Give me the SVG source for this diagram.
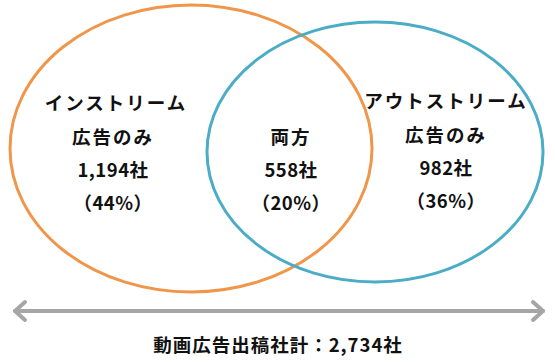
<svg xmlns="http://www.w3.org/2000/svg" width="555" height="362" viewBox="0 0 555 362">
<style>
.t{font-family:"Noto Sans CJK JP","Noto Sans",sans-serif;font-weight:bold;font-size:18.5px;fill:#111;text-anchor:middle;letter-spacing:2px}
.n{letter-spacing:0.5px}
.ring{fill:none;stroke-width:3}
</style>
<rect width="555" height="362" fill="#fff"/>
<g id="in-stream">
<ellipse class="ring" cx="191" cy="148.5" rx="181" ry="143.5" stroke="#F0964A"/>
</g>
<g id="out-stream">
<ellipse class="ring" cx="375" cy="152" rx="168" ry="130" stroke="#4BACC6"/>
</g>
<g id="labels-left">
<text class="t" x="116" y="110">インストリーム</text>
<text class="t" x="113" y="144">広告のみ</text>
<text class="t n" x="113" y="177">1,194社</text>
<text class="t n" x="113" y="210">（44%）</text>
</g>
<g id="labels-mid">
<text class="t" x="291" y="144">両方</text>
<text class="t n" x="291" y="177">558社</text>
<text class="t n" x="291" y="210">（20%）</text>
</g>
<g id="labels-right">
<text class="t" x="446" y="108">アウトストリーム</text>
<text class="t" x="446" y="142">広告のみ</text>
<text class="t n" x="446" y="175">982社</text>
<text class="t n" x="446" y="208">（36%）</text>
</g>
<g id="connectors" fill="none" stroke="#A6A6A6" stroke-width="4" stroke-linecap="round" stroke-linejoin="round">
<line x1="15" y1="311" x2="543" y2="311"/>
<polyline points="25,302 15,311 25,320"/>
<polyline points="533,302 543,311 533,320"/>
</g>
<g id="total">
<text class="t" x="278" y="352" style="letter-spacing:1px">動画広告出稿社計：2,734社</text>
</g>
</svg>
